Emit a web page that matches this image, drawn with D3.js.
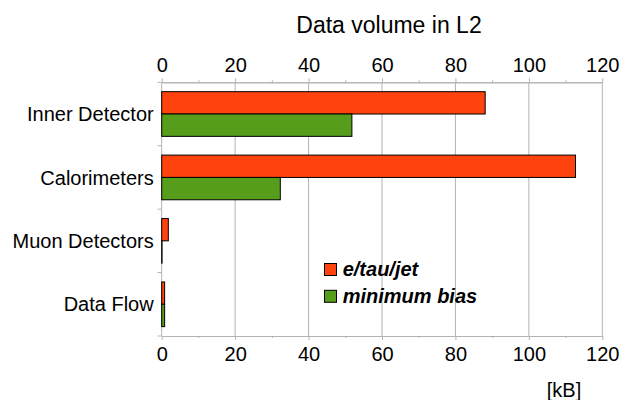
<!DOCTYPE html>
<html><head><meta charset="utf-8">
<script src="https://cdn.jsdelivr.net/npm/d3@7"></script>
<style>
body{margin:0;background:#fff;}
text{font-family:"Liberation Sans",Arial,sans-serif;fill:#000;}
</style></head>
<body><svg id="c" width="621" height="400"></svg>
<script>
const categories = ["Inner Detector","Calorimeters","Muon Detectors","Data Flow"];
const seriesNames = ["e/tau/jet","minimum bias"];
const etauJet = [88.1, 112.7, 1.8, 0.8];
const minBias = [51.8, 32.3, 0.1, 0.8];
const majorTicks = [0,20,40,60,80,100,120];
const minorTicks = [10,30,50,70,90,110];
const colors = ["#ff420e","#579d1c"];
const title = "Data volume in L2";
const unitLabel = "[kB]";

const W=621,H=400, m={l:161.7,r:18.7,t:82.3,b:64};
const svg=d3.select("#c");
const x=d3.scaleLinear().domain([0,120]).range([m.l,W-m.r]);
const y0=d3.scaleBand().domain(categories).range([m.t,H-m.b]).padding(0);
const y1=d3.scaleBand().domain(seriesNames).range([0,y0.bandwidth()]).paddingInner(0).paddingOuter(0.42);
const grid="#b3b3b3";

// gridlines
svg.append("g").selectAll("line").data(majorTicks.slice(1)).join("line")
  .attr("x1",d=>x(d)).attr("x2",d=>x(d)).attr("y1",m.t).attr("y2",H-m.b)
  .attr("stroke",grid).attr("stroke-width",1);

function styleAxis(g){g.selectAll("path,line").attr("stroke",grid);g.select(".domain").attr("stroke",grid);
  g.selectAll("text").style("font-size","20px").attr("font-family",null);}

// top axis
svg.append("g").attr("transform",`translate(0,${m.t})`)
  .call(d3.axisTop(x).tickValues(majorTicks).tickSize(4).tickPadding(6.6).tickSizeOuter(0)).call(styleAxis);
svg.append("g").attr("transform",`translate(0,${m.t})`)
  .call(d3.axisTop(x).tickValues(minorTicks).tickSize(2).tickFormat("").tickSizeOuter(0)).call(styleAxis);
// bottom axis
svg.append("g").attr("transform",`translate(0,${H-m.b})`)
  .call(d3.axisBottom(x).tickValues(majorTicks).tickSize(4).tickPadding(6.8).tickSizeOuter(0)).call(styleAxis);
svg.append("g").attr("transform",`translate(0,${H-m.b})`)
  .call(d3.axisBottom(x).tickValues(minorTicks).tickSize(2).tickFormat("").tickSizeOuter(0)).call(styleAxis);

// left axis line + ticks at band boundaries
const bounds=categories.map(c=>y0(c)).concat([y0(categories[categories.length-1])+y0.bandwidth()]);
svg.append("line").attr("x1",x(0)).attr("x2",x(0)).attr("y1",m.t).attr("y2",H-m.b).attr("stroke",grid);
svg.append("g").selectAll("line").data(bounds).join("line")
  .attr("x1",x(0)-4).attr("x2",x(0)).attr("y1",d=>d).attr("y2",d=>d).attr("stroke",grid);
svg.append("g").selectAll("text").data(categories).join("text")
  .attr("x",x(0)-8).attr("y",d=>y0(d)+y0.bandwidth()/2).attr("dy","0.36em")
  .attr("text-anchor","end").style("font-size","20px").text(d=>d);

// bars
const rows=categories.map((c,i)=>({c,vals:[etauJet[i],minBias[i]]}));
svg.append("g").selectAll("g").data(rows).join("g")
  .attr("transform",d=>`translate(0,${y0(d.c)})`)
  .selectAll("rect").data(d=>d.vals.map((v,j)=>({v,s:seriesNames[j],j}))).join("rect")
  .attr("x",x(0)).attr("y",d=>y1(d.s)).attr("width",d=>x(d.v)-x(0)).attr("height",y1.bandwidth())
  .attr("fill",d=>colors[d.j]).attr("stroke","#000").attr("stroke-width",1);

// title
svg.append("text").attr("x",389).attr("y",32.5).attr("text-anchor","middle").style("font-size","23px").text(title);
svg.append("text").attr("x",564).attr("y",396.5).attr("text-anchor","middle").style("font-size","20px").text(unitLabel);

// legend
const lg=svg.append("g");
seriesNames.forEach((s,i)=>{
  const yy=263.5+i*26.8;
  lg.append("rect").attr("x",324.5).attr("y",yy).attr("width",12).attr("height",12)
    .attr("fill",colors[i]).attr("stroke","#000").attr("stroke-width",1);
  lg.append("text").attr("x",342.7).attr("y",yy+12.6).style("font-size","20px")
    .style("font-weight","bold").style("font-style","italic").text(s);
});
</script></body></html>
